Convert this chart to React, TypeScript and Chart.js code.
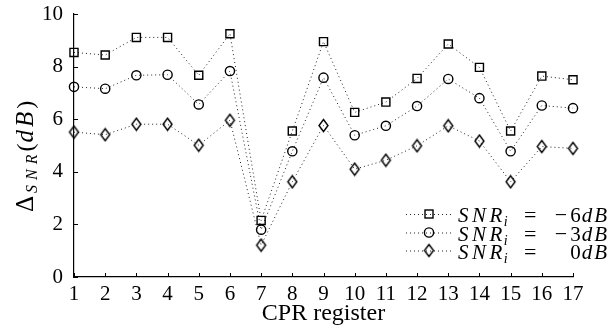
import React, { useEffect, useRef } from 'react';
import { Chart, registerables } from 'chart.js';

Chart.register(...registerables);

// ---- data ----
const categories = ['1', '2', '3', '4', '5', '6', '7', '8', '9', '10', '11', '12', '13', '14', '15', '16', '17'];
const snrMinus6 = [8.54, 8.44, 9.11, 9.11, 7.67, 9.25, 2.15, 5.55, 8.95, 6.26, 6.65, 7.55, 8.86, 7.97, 5.55, 7.64, 7.5];
const snrMinus3 = [7.23, 7.16, 7.67, 7.69, 6.56, 7.83, 1.8, 4.78, 7.58, 5.39, 5.75, 6.5, 7.53, 6.8, 4.78, 6.52, 6.42];
const snr0 = [5.51, 5.41, 5.81, 5.81, 5.01, 5.96, 1.21, 3.62, 5.76, 4.1, 4.44, 4.99, 5.75, 5.17, 3.62, 4.96, 4.89];
const yTickValues = [0, 2, 4, 6, 8, 10];
const legendSigns = ['\u2212', '\u2212', ''];
const legendDigits = ['6', '3', '0'];
const xTitle = 'CPR register';

const SERIF = "'Liberation Serif', serif";

type Piece = { text: string; size: number; italic?: boolean; dy?: number; spacing?: number; gapAfter?: number };

function drawPieces(ctx: CanvasRenderingContext2D, pieces: Piece[], x: number, y: number) {
  let cx = x;
  for (const p of pieces) {
    ctx.font = `${p.italic ? 'italic ' : ''}${p.size}px ${SERIF}`;
    const sp = p.spacing || 0;
    for (const ch of p.text) {
      ctx.fillText(ch, cx, y + (p.dy || 0));
      cx += ctx.measureText(ch).width + sp;
    }
    cx += p.gapAfter || 0;
  }
  return cx;
}

function piecesWidth(ctx: CanvasRenderingContext2D, pieces: Piece[]) {
  let w = 0;
  for (const p of pieces) {
    ctx.font = `${p.italic ? 'italic ' : ''}${p.size}px ${SERIF}`;
    for (const ch of p.text) w += ctx.measureText(ch).width + (p.spacing || 0);
    w += p.gapAfter || 0;
  }
  return w;
}

function makeDiamond(): HTMLCanvasElement {
  const c = document.createElement('canvas');
  c.width = 13;
  c.height = 15;
  const g = c.getContext('2d')!;
  g.strokeStyle = '#000';
  g.lineWidth = 1.4;
  g.beginPath();
  g.moveTo(6.5, 1.5);
  g.lineTo(11, 7.5);
  g.lineTo(6.5, 13.5);
  g.lineTo(2, 7.5);
  g.closePath();
  g.stroke();
  return c;
}

export default function App() {
  const ref = useRef<HTMLCanvasElement | null>(null);

  useEffect(() => {
    document.body.style.margin = '0';
    const canvas = ref.current!;
    const diamond = makeDiamond();
    let chart: Chart | null = null;
    let cancelled = false;

    const inwardTicks = {
      id: 'inwardTicks',
      afterDraw(c: any) {
        const { ctx, chartArea, scales } = c;
        const xs = scales.x;
        const ys = scales.y;
        ctx.save();
        ctx.strokeStyle = '#000';
        ctx.lineWidth = 1;
        ctx.beginPath();
        xs.ticks.forEach((_t: any, i: number) => {
          const px = Math.round(xs.getPixelForTick(i)) + 0.5;
          ctx.moveTo(px, chartArea.bottom);
          ctx.lineTo(px, chartArea.bottom - 4);
        });
        ys.ticks.forEach((_t: any, i: number) => {
          const py = Math.round(ys.getPixelForTick(i)) + 0.5;
          ctx.moveTo(chartArea.left, py);
          ctx.lineTo(chartArea.left + 4, py);
        });
        ctx.stroke();
        ctx.restore();
      },
    };

    const titles = {
      id: 'titles',
      afterDraw(c: any) {
        const { ctx, chartArea } = c;
        ctx.save();
        ctx.fillStyle = '#000';
        ctx.textBaseline = 'alphabetic';
        ctx.font = `24px ${SERIF}`;
        ctx.textAlign = 'center';
        ctx.fillText(xTitle, (chartArea.left + chartArea.right) / 2, 320);
        ctx.textAlign = 'left';
        ctx.translate(33, 212);
        ctx.rotate(-Math.PI / 2);
        drawPieces(ctx, [
          { text: '\u0394', size: 25, gapAfter: 3 },
          { text: 'SNR', size: 16, italic: true, dy: 4, spacing: 5, gapAfter: -2 },
          { text: '(', size: 24, gapAfter: 1 },
          { text: 'dB', size: 25, italic: true, spacing: 3 },
          { text: ')', size: 24 },
        ], 0, 0);
        ctx.restore();
      },
    };

    const legendPlugin = {
      id: 'customLegend',
      afterDraw(c: any) {
        const { ctx } = c;
        const rowsY = [214, 232.5, 250.5];
        ctx.save();
        ctx.fillStyle = '#000';
        ctx.textBaseline = 'alphabetic';
        c.data.datasets.forEach((ds: any, i: number) => {
          const yy = rowsY[i];
          ctx.save();
          ctx.strokeStyle = '#222';
          ctx.lineWidth = 1;
          ctx.setLineDash([1, 3]);
          ctx.beginPath();
          ctx.moveTo(406, yy + 0.5);
          ctx.lineTo(452, yy + 0.5);
          ctx.stroke();
          ctx.restore();
          ctx.save();
          ctx.strokeStyle = '#000';
          ctx.lineWidth = 1.4;
          const mx = 429;
          if (ds.pointStyle === 'rect') {
            ctx.strokeRect(mx - 4, yy - 4, 8, 8);
          } else if (ds.pointStyle === 'circle') {
            ctx.beginPath();
            ctx.arc(mx, yy, 4.6, 0, Math.PI * 2);
            ctx.stroke();
          } else {
            ctx.drawImage(diamond, mx - diamond.width / 2, yy - diamond.height / 2);
          }
          ctx.restore();
          const base = yy + 8.2;
          drawPieces(ctx, [
            { text: 'SNR', size: 21, italic: true, spacing: 3.5, gapAfter: -2 },
            { text: 'i', size: 14, italic: true, dy: 4 },
          ], 458, base);
          ctx.font = `22px ${SERIF}`;
          ctx.fillText('=', 524, base);
          const val: Piece[] = [];
          if (legendSigns[i]) val.push({ text: legendSigns[i], size: 22, gapAfter: 3 });
          val.push({ text: legendDigits[i], size: 21, gapAfter: 1 });
          val.push({ text: 'dB', size: 21, italic: true, spacing: 2 });
          const w = piecesWidth(ctx, val);
          drawPieces(ctx, val, 609 - w, base);
        });
        ctx.restore();
      },
    };

    const common = {
      borderColor: '#222',
      borderWidth: 1,
      borderDash: [1, 3],
      pointBorderColor: '#000',
      pointBackgroundColor: 'rgba(0,0,0,0)',
      pointBorderWidth: 1.4,
      fill: false,
      tension: 0,
      clip: false as any,
    };

    const build = () => {
      if (cancelled) return;
      chart = new Chart(canvas, {
        type: 'line',
        data: {
          labels: categories,
          datasets: [
            { ...common, label: 'SNR_i = -6dB', data: snrMinus6, pointStyle: 'rect', pointRadius: 5.7, pointHoverRadius: 5.7 },
            { ...common, label: 'SNR_i = -3dB', data: snrMinus3, pointStyle: 'circle', pointRadius: 4.6, pointHoverRadius: 4.6 },
            { ...common, label: 'SNR_i = 0dB', data: snr0, pointStyle: diamond as any, pointRadius: 6, pointHoverRadius: 6 },
          ],
        },
        options: {
          responsive: false,
          animation: false,
          events: [],
          layout: { padding: { top: 14, right: 40, left: 0, bottom: 0 } },
          plugins: {
            legend: { display: false },
            tooltip: { enabled: false },
            title: { display: false },
          },
          scales: {
            x: {
              type: 'category',
              offset: false,
              grid: { display: false, drawTicks: false },
              border: { display: true, color: '#000', width: 1.2 },
              ticks: {
                color: '#000',
                font: { family: SERIF, size: 21 },
                padding: 5,
                maxRotation: 0,
                autoSkip: false,
              },
              afterFit: (s: any) => { s.height = 52; s.paddingLeft = 0; s.paddingRight = 0; },
            },
            y: {
              min: 0,
              max: 10,
              grid: { display: false, drawTicks: false },
              border: { display: true, color: '#000', width: 1.2 },
              afterBuildTicks: (s: any) => { s.ticks = yTickValues.map((v) => ({ value: v })); },
              ticks: {
                color: '#000',
                font: { family: SERIF, size: 21 },
                padding: 11,
              },
              afterFit: (s: any) => { s.width = 74; s.paddingTop = 0; s.paddingBottom = 0; },
            },
          },
        },
        plugins: [inwardTicks, titles, legendPlugin],
      });
    };

    const fonts = (document as any).fonts;
    if (fonts && fonts.load) {
      Promise.all([
        fonts.load(`21px 'Liberation Serif'`),
        fonts.load(`italic 21px 'Liberation Serif'`),
      ]).then(build, build);
    } else {
      build();
    }

    return () => {
      cancelled = true;
      if (chart) chart.destroy();
    };
  }, []);

  return (
    <div style={{ position: 'absolute', left: 0, top: 0, width: 613, height: 329, background: '#fff' }}>
      <canvas ref={ref} width={613} height={329} style={{ display: 'block', width: 613, height: 329 }} />
    </div>
  );
}
